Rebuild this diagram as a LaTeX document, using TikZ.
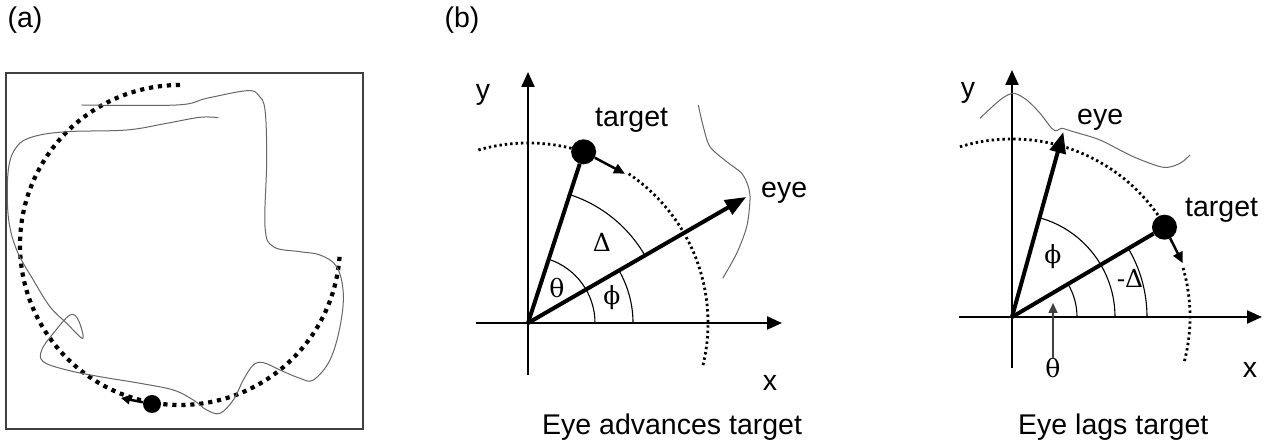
\documentclass[tikz,border=0pt]{standalone}
\usepackage{fontspec}
\setmainfont{Liberation Sans}
\newfontfamily\grkfont{DejaVu Serif}
\usetikzlibrary{arrows.meta}

\begin{document}
\begin{tikzpicture}[
  x=1pt, y=1pt,
  every node/.style={font=\fontsize{28.5}{33}\selectfont, inner sep=0pt},
  grk/.style={font=\fontsize{25}{29}\selectfont\grkfont},
  axis/.style={line width=2.2pt, -{Triangle[length=15pt,width=13pt]}},
  vec/.style={line width=4pt, -{Triangle[length=21pt,width=16pt]}},
  rad/.style={line width=4pt},
  small/.style={line width=2.5pt, -{Triangle[length=11pt,width=10pt]}},
  ang/.style={line width=1.1pt},
  trace/.style={line width=1pt, black!60},
  orbit/.style={line width=2.8pt, dash pattern=on 2.4pt off 3pt},
  bigorbit/.style={line width=4.2pt, dash pattern=on 4.2pt off 4.8pt},
  ball/.style={circle, fill=black, minimum size=25pt},
]
\useasboundingbox (0,0) rectangle (1268,446);

% (a) target on a circle, eye trace
\node (pa) at (25,426) {(a)};
\draw[line width=1.5pt, black!75] (6,17) rectangle (363,373);
\draw[bigorbit] (180,201) ++(90:160) arc[start angle=90, end angle=357, radius=160];
\draw[trace] plot[smooth, tension=0.6] coordinates {
  (81.7,341) (176.7,341) (206.7,347.7) (246.7,355.3) (258.3,351) (265,336)
  (266.7,286) (265,219.3) (273.3,199.3) (300,194.3) (320,191) (336.7,179.3)
  (343.3,152.7) (340,119.3) (330,86) (313.3,66) (300,67.7) (280,76)
  (263.3,83.3) (253.3,81) (243.3,66) (233.3,46) (220,32.7) (206.7,36)
  (193.3,46) (173.3,56) (140,62.7) (100,69.3) (66.7,76) (43.3,84.3)
  (41.7,96) (53.3,112.7) (70,131) (78.3,126) (82.7,107.7) (66.7,122.7)
  (50,139.3) (33.3,166) (16.7,196) (8.3,229.3) (8.3,276) (16.7,299.3)
  (33.3,309.3) (66.7,314.3) (126.7,316) (166.7,322.7) (200,328.7) (218.3,328.3)};
\node[ball, minimum size=18pt] (dot) at (152,42) {};
\coordinate (dotto) at (121,48);
\draw[line width=2.5pt, -{Triangle[length=9pt,width=9pt]}] (dot) -- (dotto);

% (b) eye advances target
\node (pb) at (462,426) {(b)};
\begin{scope}[shift={(528,123)}]
\coordinate (o1) at (0,0);
\draw[axis] (0,-52) -- (0,251);
\draw[axis] (-52,0) -- (254,0);
\node (ylbl1) at (-45,228) {y};
\node (xlbl1) at (242,-60) {x};
\draw[orbit] (106:180) arc[start angle=106, end angle=74, radius=180];
\draw[orbit] (56:180) arc[start angle=56, end angle=-14, radius=180];
\draw[ang] (67,0) arc[start angle=0, end angle=72, radius=67];
\draw[ang] (105,0) arc[start angle=0, end angle=30, radius=105];
\draw[ang] (30:135) arc[start angle=30, end angle=72, radius=135];
\node[ball] (tgt1) at (72:180) {};
\draw[rad] (o1) -- (tgt1);
\coordinate (tgt1to) at (57:178);
\draw[small] (tgt1) -- (tgt1to);
\coordinate (eye1) at (30:252);
\draw[vec] (o1) -- (eye1);
\draw[trace] plot[smooth] coordinates {
  (170.3,218) (175.3,196.3) (182,176.3) (198.7,161.3) (213.7,149.7)
  (220.3,136.3) (222,123) (218.7,96.3) (208.7,69.7) (194.7,44.7)};
\node[anchor=base west] (tgtlbl1) at (67,196) {target};
\node[anchor=base west] (eyelbl1) at (233,125) {eye};
\node[grk] (dlt1) at (74,81) {Δ};
\node[grk] (th1) at (29,35) {θ};
\node[grk] (ph1) at (84,25) {ϕ};
\end{scope}
\node[anchor=base west] (cap1) at (542,11) {Eye advances target};

% (b) eye lags target
\begin{scope}[shift={(1012,129)}]
\coordinate (o2) at (0,0);
\draw[axis] (0,-51) -- (0,247);
\draw[axis] (-53,0) -- (250,0);
\node (ylbl2) at (-44,224) {y};
\node (xlbl2) at (238,-53) {x};
\draw[orbit] (107:178) arc[start angle=107, end angle=32, radius=178];
\draw[orbit] (16:178) arc[start angle=16, end angle=-15, radius=178];
\draw[ang] (65,0) arc[start angle=0, end angle=30.5, radius=65];
\draw[ang] (103,0) arc[start angle=0, end angle=74.5, radius=103];
\draw[ang] (135,0) arc[start angle=0, end angle=30.5, radius=135];
\node[ball] (tgt2) at (30.5:177) {};
\draw[rad] (o2) -- (tgt2);
\coordinate (tgt2to) at (17.5:179);
\draw[small] (tgt2) -- (tgt2to);
\coordinate (eye2) at (74.5:192);
\draw[vec] (o2) -- (eye2);
\draw[trace] plot[smooth] coordinates {
  (-32,198.7) (-12,217) (1.3,223.7) (14.7,217) (28,203.7) (39.7,188.7)
  (44.7,186.3) (49.7,188.7) (61.3,185.3) (88,177) (121.3,160.3)
  (151.3,149.7) (168,153.7) (178,162)};
\node[anchor=base west] (eyelbl2) at (65,192) {eye};
\node[anchor=base west] (tgtlbl2) at (173,100) {target};
\node[grk] (ph2) at (41,60) {ϕ};
\node[grk] (dlt2) at (118,39) {-Δ};
\node[grk] (th2) at (41,-51) {θ};
\coordinate (th2to) at (41,14);
\draw[line width=1.6pt, black!75, -{Triangle[length=10pt,width=9pt]}] (th2) -- (th2to);
\end{scope}
\node[anchor=base west] (cap2) at (1018,11) {Eye lags target};
\end{tikzpicture}
\end{document}
